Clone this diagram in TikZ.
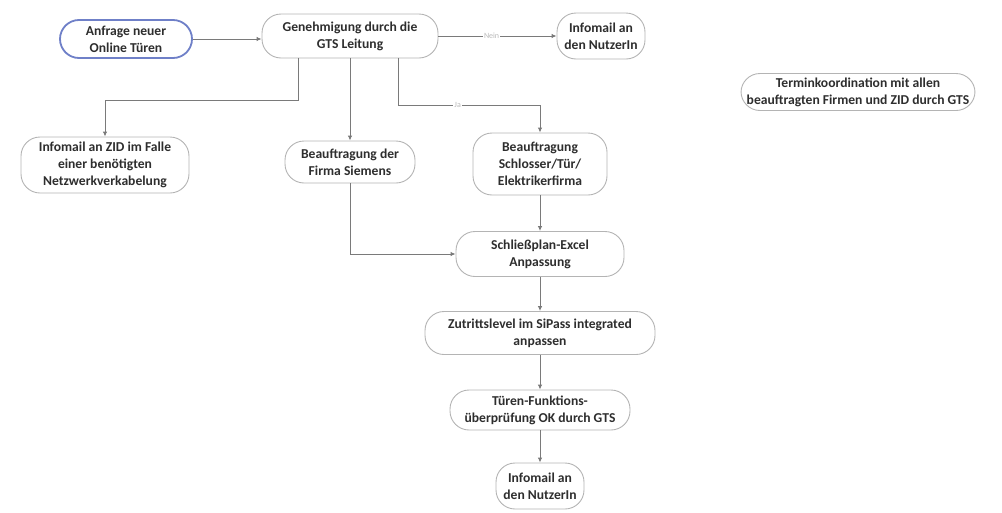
\documentclass[tikz,border=0pt]{standalone}
\usepackage{fontspec}
\setmainfont{Carlito}
\usetikzlibrary{arrows.meta}
\definecolor{txt}{HTML}{2E2E2E}
\definecolor{edge}{HTML}{7A7A7A}
\definecolor{frame}{HTML}{B4B4B4}
\definecolor{startblue}{HTML}{6F80C8}
\tikzset{
  proc/.style={draw=frame, line width=0.9pt, rounded corners=19pt, fill=white,
    align=center, text=txt, font=\fontsize{13.6}{17}\selectfont\bfseries,
    inner sep=3pt},
  startproc/.style={proc, draw=startblue, line width=1.8pt},
  arr/.style={draw=edge, line width=0.9pt, -{Latex[length=5pt,width=4.5pt]}},
  elabel/.style={fill=white, text=gray!55, font=\fontsize{8}{9}\selectfont, inner sep=1pt}
}
\begin{document}
\begin{tikzpicture}[x=1pt, y=-1pt]
\useasboundingbox (0,0) rectangle (1002,512);

% process steps
\node[startproc, minimum width=132pt, minimum height=38pt] (anfrage) at (126,39) {Anfrage neuer\\Online Türen};
\node[proc, minimum width=176pt, minimum height=44pt] (genehm) at (350,36) {Genehmigung durch die\\GTS Leitung};
\node[proc, minimum width=88pt, minimum height=46pt] (infonein) at (601,36) {Infomail an\\den NutzerIn};
\node[proc, minimum width=234pt, minimum height=37pt] (termin) at (858,92) {Terminkoordination mit allen\\beauftragten Firmen und ZID durch GTS};
\node[proc, minimum width=168pt, minimum height=56pt] (zid) at (105,165) {Infomail an ZID im Falle\\einer benötigten\\Netzwerkverkabelung};
\node[proc, minimum width=130pt, minimum height=42pt] (siemens) at (350,162) {Beauftragung der\\Firma Siemens};
\node[proc, minimum width=134pt, minimum height=62pt] (schlosser) at (540,164) {Beauftragung\\Schlosser/Tür/\\Elektrikerfirma};
\node[proc, minimum width=168pt, minimum height=45pt] (schliess) at (540,254) {Schließplan-Excel\\Anpassung};
\node[proc, minimum width=230pt, minimum height=43pt] (zutritt) at (540,333) {Zutrittslevel im SiPass integrated\\anpassen};
\node[proc, minimum width=180pt, minimum height=40pt] (tueren) at (540,410) {Türen-Funktions-\\überprüfung OK durch GTS};
\node[proc, minimum width=88pt, minimum height=46pt] (infoend) at (540,486) {Infomail an\\den NutzerIn};

% connectors
\draw[arr] (anfrage.east) -- (anfrage.east -| genehm.west);
\draw[arr] (genehm.east) -- node[elabel, pos=0.45] {Nein} (infonein.west);
\draw[arr] ([xshift=-52pt]genehm.south) -- ++(0,42) -| (zid.north);
\draw[arr] (genehm.south) -- (siemens.north);
\draw[arr] ([xshift=48pt]genehm.south) -- ++(0,47) -- node[elabel, pos=0.42] {Ja} ++(142,0) -- (schlosser.north);
\draw[arr] (siemens.south) |- (schliess.west);
\draw[arr] (schlosser) -- (schliess);
\draw[arr] (schliess) -- (zutritt);
\draw[arr] (zutritt) -- (tueren);
\draw[arr] (tueren) -- (infoend);
\end{tikzpicture}
\end{document}
